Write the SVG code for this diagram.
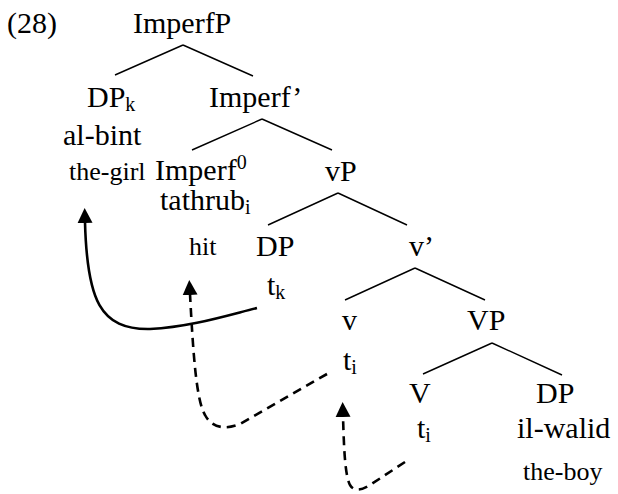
<svg xmlns="http://www.w3.org/2000/svg" width="618" height="494" viewBox="0 0 618 494">
<style>
text{font-family:"Liberation Serif","Times New Roman",serif;fill:#000}
.m{font-size:30px}
.g{font-size:26px}
.s{font-size:20px}
.tree{stroke:#000;stroke-width:1.4;fill:none}
.arr{stroke:#000;stroke-width:2.6;fill:none}
.dash{stroke-dasharray:9 6}
</style>
<defs>
<marker id="ah" markerWidth="16" markerHeight="16" refX="1" refY="8" orient="auto" markerUnits="userSpaceOnUse" viewBox="0 0 16 16">
<path d="M0,0.5 L15,8 L0,15.5 Z" fill="#000"/>
</marker>
</defs>
<rect width="618" height="494" fill="#fff"/>
<text id="label28" class="m" x="7" y="33">(28)</text>
<g id="n-imperfp"><text class="m" x="133" y="33">ImperfP</text></g>
<g id="n-dpk"><text class="m" x="87" y="107">DP<tspan class="s" dy="4">k</tspan></text>
<text class="m" x="63" y="145">al-bint</text>
<text class="g" x="69" y="180">the-girl</text></g>
<g id="n-imperfbar"><text class="m" x="209" y="107">Imperf’</text></g>
<g id="n-imperf0"><text class="m" x="155" y="180">Imperf<tspan class="s" dy="-11">0</tspan></text>
<text class="m" x="160" y="210">tathrub<tspan class="s" dy="4">i</tspan></text>
<text class="g" x="189" y="255">hit</text></g>
<g id="n-vp"><text class="m" x="325" y="181">vP</text></g>
<g id="n-dp2"><text class="m" x="256" y="256">DP</text>
<text class="m" x="267" y="295">t<tspan class="s" dy="4">k</tspan></text></g>
<g id="n-vbar"><text class="m" x="409" y="256">v’</text></g>
<g id="n-v"><text class="m" x="342" y="330">v</text>
<text class="m" x="343" y="370">t<tspan class="s" dy="4">i</tspan></text></g>
<g id="n-VP"><text class="m" x="467" y="330">VP</text></g>
<g id="n-V"><text class="m" x="409" y="403">V</text>
<text class="m" x="417" y="438">t<tspan class="s" dy="4">i</tspan></text></g>
<g id="n-dp3"><text class="m" x="536" y="403">DP</text>
<text class="m" x="517" y="438">il-walid</text>
<text class="g" x="523" y="480">the-boy</text></g>
<g id="connectors">
<path class="tree" d="M183,45 L115,75 M183,45 L253,76"/>
<path class="tree" d="M262,119 L192,150 M262,119 L332,150"/>
<path class="tree" d="M338,193 L268,225 M338,193 L407,225"/>
<path class="tree" d="M415,268 L345,300 M415,268 L485,300"/>
<path class="tree" d="M492,343 L423,374 M492,343 L562,375"/>
<path class="arr" marker-end="url(#ah)" d="M257,308 C225,316 190,327 150,329 C100,330 87,300 85,222"/>
<path class="arr dash" marker-end="url(#ah)" d="M327,374 L240,424 C225,430 212,428 205,415 C196,400 193,350 190,294"/>
<path class="arr dash" marker-end="url(#ah)" d="M405,462 L370,485 C362,490 354,492 350,485 C345,475 344,450 343,416"/>
</g>
</svg>
